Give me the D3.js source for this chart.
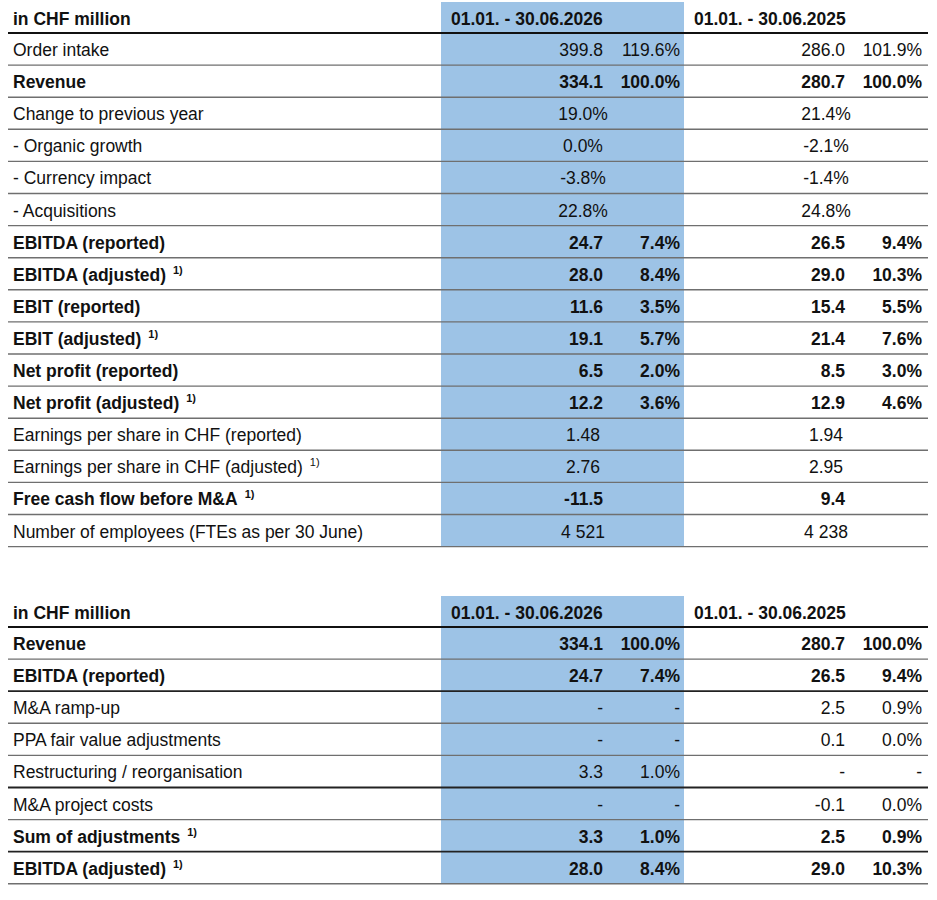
<!DOCTYPE html>
<html>
<head>
<meta charset="utf-8">
<script src="https://cdn.jsdelivr.net/npm/d3@7"></script>
<style>
  body { margin: 0; background: #fff; }
  text { font-family: "Liberation Sans", Arial, sans-serif; fill: #111; }
</style>
</head>
<body>
<svg id="chart" width="937" height="900"></svg>
<script>
const headLabel = "in CHF million";
const periods = ["01.01. - 30.06.2026", "01.01. - 30.06.2025"];

// table 1
const labels1 = [
  "Order intake", "Revenue", "Change to previous year", "- Organic growth",
  "- Currency impact", "- Acquisitions", "EBITDA (reported)", "EBITDA (adjusted)",
  "EBIT (reported)", "EBIT (adjusted)", "Net profit (reported)", "Net profit (adjusted)",
  "Earnings per share in CHF (reported)", "Earnings per share in CHF (adjusted)",
  "Free cash flow before M&A", "Number of employees (FTEs as per 30 June)",
];
const bold1 = [0, 1, 0, 0, 0, 0, 1, 1, 1, 1, 1, 1, 0, 0, 1, 0];
const note1 = [0, 0, 0, 0, 0, 0, 0, 1, 0, 1, 0, 1, 0, 1, 1, 0];
const val26a = ["399.8", "334.1", "19.0%", "0.0%", "-3.8%", "22.8%", "24.7", "28.0",
  "11.6", "19.1", "6.5", "12.2", "1.48", "2.76", "-11.5", "4 521"];
const pct26a = ["119.6%", "100.0%", null, null, null, null, "7.4%", "8.4%",
  "3.5%", "5.7%", "2.0%", "3.6%", null, null, null, null];
const val25a = ["286.0", "280.7", "21.4%", "-2.1%", "-1.4%", "24.8%", "26.5", "29.0",
  "15.4", "21.4", "8.5", "12.9", "1.94", "2.95", "9.4", "4 238"];
const pct25a = ["101.9%", "100.0%", null, null, null, null, "9.4%", "10.3%",
  "5.5%", "7.6%", "3.0%", "4.6%", null, null, null, null];

// table 2
const labels2 = [
  "Revenue", "EBITDA (reported)", "M&A ramp-up", "PPA fair value adjustments",
  "Restructuring / reorganisation", "M&A project costs", "Sum of adjustments",
  "EBITDA (adjusted)",
];
const bold2 = [1, 1, 0, 0, 0, 0, 1, 1];
const note2 = [0, 0, 0, 0, 0, 0, 1, 1];
const val26b = ["334.1", "24.7", "-", "-", "3.3", "-", "3.3", "28.0"];
const pct26b = ["100.0%", "7.4%", "-", "-", "1.0%", "-", "1.0%", "8.4%"];
const val25b = ["280.7", "26.5", "2.5", "0.1", "-", "-0.1", "2.5", "29.0"];
const pct25b = ["100.0%", "9.4%", "0.9%", "0.0%", "-", "0.0%", "0.9%", "10.3%"];
const darkLines2 = [1, 4, 6];

const svg = d3.select("#chart");
const left = 8, right = 928;
const blueX0 = 441, blueX1 = 684;
const rowH = 32.1, headH = 31;
const fs = 17.5;

const col = d3.scaleOrdinal()
  .domain(["label", "v26", "p26", "v25", "p25", "c26", "c25", "h26", "h25"])
  .range([13, 603, 680, 845, 922, 583, 826, 451, 694]);

function drawTable(top, rows, opts) {
  const n = rows.length;
  const y = d3.scaleBand()
    .domain(d3.range(n))
    .range([top + headH, top + headH + n * rowH]);
  const g = svg.append("g");

  g.append("rect")
    .attr("x", blueX0).attr("y", top)
    .attr("width", blueX1 - blueX0)
    .attr("height", headH + n * rowH)
    .attr("fill", "#9DC3E6");

  // header
  const hy = top + headH / 2 + 7;
  [["label", headLabel], ["h26", periods[0]], ["h25", periods[1]]].forEach(([c, t]) => {
    g.append("text").attr("x", col(c)).attr("y", hy)
      .attr("font-size", fs).attr("font-weight", "bold").text(t);
  });

  // separators
  g.selectAll("line.sep")
    .data(d3.range(n))
    .join("line")
    .attr("class", "sep")
    .attr("x1", left).attr("x2", right)
    .attr("y1", (i) => y(i) + y.bandwidth())
    .attr("y2", (i) => y(i) + y.bandwidth())
    .attr("stroke", (i) => (opts.dark.includes(i) ? "#222" : "#6f6f6f"))
    .attr("stroke-width", (i) => (opts.dark.includes(i) ? 1.8 : 1.4));
  g.append("line")
    .attr("x1", left).attr("x2", right)
    .attr("y1", top + headH).attr("y2", top + headH)
    .attr("stroke", "#111").attr("stroke-width", 2);

  const rg = g.selectAll("g.row")
    .data(rows)
    .join("g")
    .attr("class", "row")
    .attr("transform", (d, i) => `translate(0,${y(i) + y.bandwidth() / 2 + 7})`)
    .attr("font-size", fs)
    .attr("font-weight", (d) => (d.bold ? "bold" : "normal"));

  const lab = rg.append("text").attr("x", col("label")).text((d) => d.label);
  lab.filter((d) => d.note)
    .append("tspan")
    .attr("dx", 7).attr("dy", -7)
    .attr("font-size", 11)
    .text("1)");

  const centered = (d) => d.p26 === null && !d.bold;
  rg.append("text")
    .attr("x", (d) => (centered(d) ? col("c26") : col("v26")))
    .attr("text-anchor", (d) => (centered(d) ? "middle" : "end"))
    .text((d) => d.v26);
  rg.append("text")
    .attr("x", (d) => (centered(d) ? col("c25") : col("v25")))
    .attr("text-anchor", (d) => (centered(d) ? "middle" : "end"))
    .text((d) => d.v25);
  rg.filter((d) => d.p26 !== null).append("text")
    .attr("x", col("p26")).attr("text-anchor", "end").text((d) => d.p26);
  rg.filter((d) => d.p25 !== null).append("text")
    .attr("x", col("p25")).attr("text-anchor", "end").text((d) => d.p25);
}

const rows1 = labels1.map((label, i) => ({
  label, bold: bold1[i], note: note1[i],
  v26: val26a[i], p26: pct26a[i], v25: val25a[i], p25: pct25a[i],
}));
const rows2 = labels2.map((label, i) => ({
  label, bold: bold2[i], note: note2[i],
  v26: val26b[i], p26: pct26b[i], v25: val25b[i], p25: pct25b[i],
}));

drawTable(2, rows1, { dark: [] });
drawTable(596, rows2, { dark: darkLines2 });
</script>
</body>
</html>
